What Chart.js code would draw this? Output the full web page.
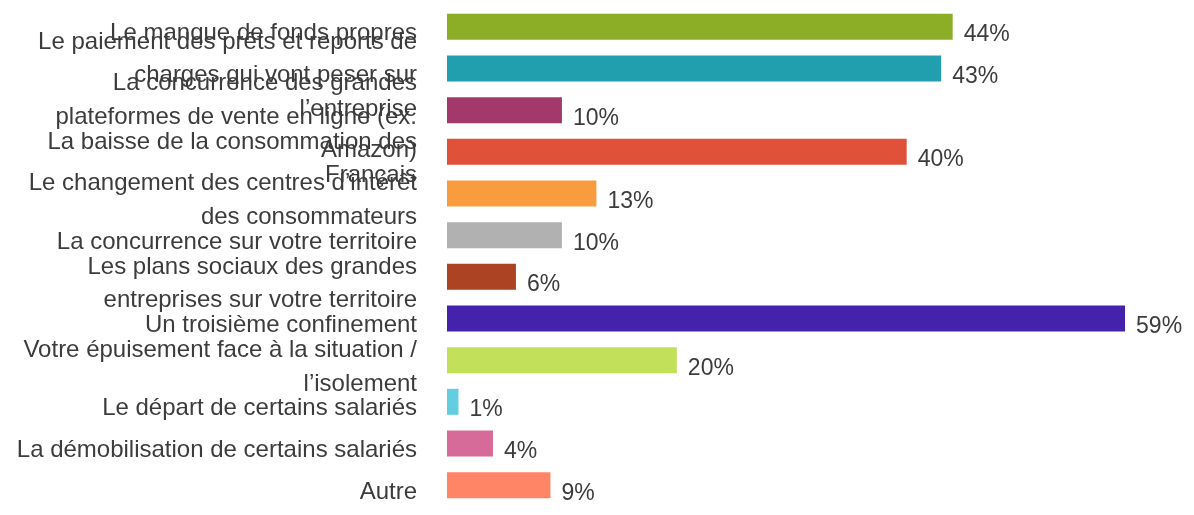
<!DOCTYPE html>
<html lang="fr">
<head>
<meta charset="utf-8">
<title>Difficultés anticipées</title>
<script src="https://cdn.jsdelivr.net/npm/chart.js@4.4.1/dist/chart.umd.min.js"></script>
<style>
  html, body { margin: 0; padding: 0; background: #fff; }
  #wrap { width: 1194px; height: 515px; position: relative; }
</style>
</head>
<body>
<div id="wrap"><canvas id="difficultesChart"></canvas></div>
<script>
const categories = [
  'Le manque de fonds propres',
  ['Le paiement des prêts et reports de', 'charges qui vont peser sur', 'l’entreprise'],
  ['La concurrence des grandes', 'plateformes de vente en ligne (ex.', 'Amazon)'],
  ['La baisse de la consommation des', 'Français'],
  ['Le changement des centres d’intérêt', 'des consommateurs'],
  'La concurrence sur votre territoire',
  ['Les plans sociaux des grandes', 'entreprises sur votre territoire'],
  'Un troisième confinement',
  ['Votre épuisement face à la situation /', 'l’isolement'],
  'Le départ de certains salariés',
  'La démobilisation de certains salariés',
  'Autre'
];
const percentages = [44, 43, 10, 40, 13, 10, 6, 59, 20, 1, 4, 9];
const barColors = [
  '#8CAE26', '#229FAF', '#A3396A', '#DF5239', '#F99C3E', '#B1B1B1',
  '#AC4322', '#4422AB', '#C2E05A', '#63CEE0', '#D66A98', '#FF8566'
];

const textColor = '#3c3c3c';

// writes "xx%" just right of each bar end, a little below its middle
const valueLabels = {
  id: 'valueLabels',
  afterDatasetsDraw(chart) {
    const ctx = chart.ctx;
    const meta = chart.getDatasetMeta(0);
    ctx.save();
    ctx.font = '23px "Liberation Sans", Arial, sans-serif';
    ctx.fillStyle = textColor;
    ctx.textAlign = 'left';
    ctx.textBaseline = 'middle';
    meta.data.forEach((bar, i) => {
      ctx.fillText(percentages[i] + '%', bar.x + 11, bar.y + 8);
    });
    ctx.restore();
  }
};

const ctx = document.getElementById('difficultesChart').getContext('2d');
new Chart(ctx, {
  type: 'bar',
  data: {
    labels: categories,
    datasets: [{
      data: percentages,
      backgroundColor: barColors,
      borderWidth: 0,
      categoryPercentage: 0.8,
      barPercentage: 0.78
    }]
  },
  options: {
    indexAxis: 'y',
    responsive: true,
    maintainAspectRatio: false,
    animation: false,
    layout: { padding: { top: 6, bottom: 9, left: 0, right: 0 } },
    plugins: {
      legend: { display: false },
      tooltip: { enabled: false }
    },
    scales: {
      x: {
        display: false,
        min: 0,
        max: 65
      },
      y: {
        grid: { display: false, drawTicks: false },
        border: { display: false },
        afterFit(scale) {
          // fixed label column, and let the long labels spill past the plot edges
          scale.width = 447;
          scale.paddingTop = 0;
          scale.paddingBottom = 0;
        },
        ticks: {
          color: textColor,
          padding: 30,
          labelOffset: 7,
          autoSkip: false,
          font: { size: 24, family: '"Liberation Sans", Arial, sans-serif', lineHeight: 1.4 }
        }
      }
    }
  },
  plugins: [valueLabels]
});
</script>
</body>
</html>
